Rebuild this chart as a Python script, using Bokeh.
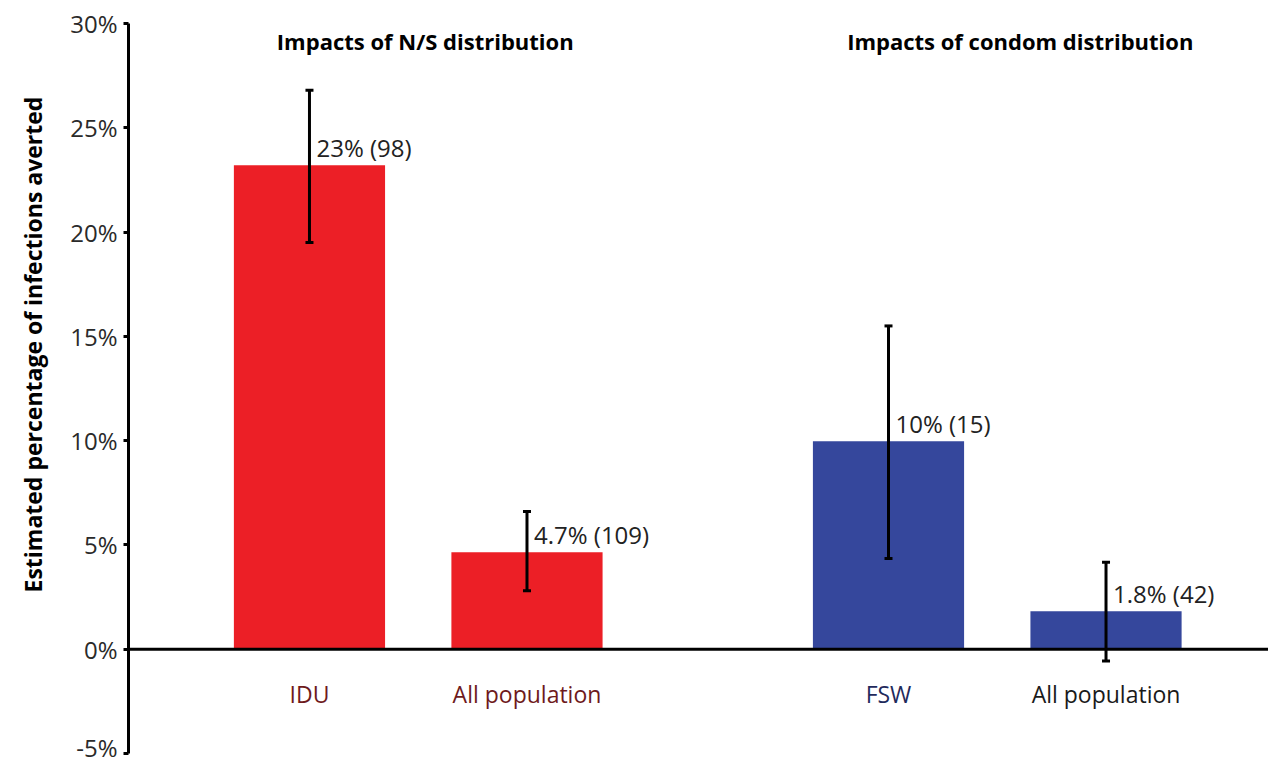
from bokeh.plotting import figure
from bokeh.models import (ColumnDataSource, Range1d, FixedTicker, Span, Whisker,
                          TeeHead, Title)
from bokeh.core.properties import value
from bokeh.embed import file_html
from bokeh.resources import INLINE

# ---------------- data ----------------
groups = ["Impacts of N/S distribution", "Impacts of condom distribution"]
categories = ["IDU", "All population", "FSW", "All population"]
group_index = [0, 0, 1, 1]
pct_averted = [23.2, 4.65, 9.97, 1.82]
err_lower = [19.5, 2.8, 4.35, -0.57]
err_upper = [26.8, 6.6, 15.5, 4.17]
value_labels = ["23% (98)", "4.7% (109)", "10% (15)", "1.8% (42)"]
y_ticks = [-5, 0, 5, 10, 15, 20, 25, 30]
y_tick_labels = ["-5%", "0%", "5%", "10%", "15%", "20%", "25%", "30%"]
y_title = "Estimated percentage of infections averted"

# ---------------- layout / style ----------------
FONT = "Open Sans"
GROUP_GAP = 2.662
bar_colors = ["#EC1F26", "#EC1F26", "#35479C", "#35479C"]
cat_label_colors = ["#6E1A1C", "#6E1A1C", "#1F2A5C", "#1A1A1A"]

within = []
counts = {}
for g in group_index:
    within.append(counts.get(g, 0))
    counts[g] = counts.get(g, 0) + 1
xpos = [g * GROUP_GAP + w for g, w in zip(group_index, within)]

src = ColumnDataSource(dict(
    x=xpos, top=pct_averted, lo=err_lower, hi=err_upper,
    lab=value_labels, cat=categories, color=bar_colors,
    cat_color=cat_label_colors, zero=[0] * len(xpos),
))

x_start = -0.832
x_end = x_start + 5.241
p = figure(width=1268, height=763, output_backend="svg", toolbar_location=None,
           x_range=Range1d(x_start, x_end), y_range=Range1d(-5, 30),
           x_axis_location=None,
           min_border_left=128, min_border_right=0, min_border_top=23,
           min_border_bottom=10)
p.outline_line_color = None
p.xgrid.visible = False
p.ygrid.visible = False
p.background_fill_color = "white"
p.border_fill_color = "white"

# y axis
ax = p.yaxis[0]
ax.ticker = FixedTicker(ticks=y_ticks)
ax.major_label_overrides = {t: l for t, l in zip(y_ticks, y_tick_labels)}
ax.axis_line_width = 3
ax.axis_line_color = "black"
ax.major_tick_in = 0
ax.major_tick_out = 5
ax.major_tick_line_width = 3
ax.minor_tick_line_color = None
ax.major_label_text_font = FONT
ax.major_label_text_font_size = "24px"
ax.major_label_text_color = "#2A2A2A"
ax.major_label_standoff = 6

# y axis title
p.add_layout(Title(text=y_title, align="left", vertical_align="top",
                   offset=161, standoff=33,
                   text_font=FONT, text_font_size="23px", text_font_style="bold",
                   text_color="black"), "left")

# bars
p.vbar(x="x", top="top", bottom=0, width=0.695, source=src,
       fill_color="color", line_color=None)

# zero line
p.add_layout(Span(location=0, dimension="width", line_color="black", line_width=3))

# error bars
w = Whisker(source=src, base="x", lower="lo", upper="hi", line_width=3,
            line_color="black", level="annotation",
            upper_head=TeeHead(size=8, line_width=3, line_color="black"),
            lower_head=TeeHead(size=8, line_width=3, line_color="black"))
p.add_layout(w)

# value labels
p.text(x="x", y="top", text="lab", source=src, x_offset=7, y_offset=-18,
       text_font=value(FONT), text_font_size="24px", text_color="#222222",
       text_align="left", text_baseline="middle")

# category labels
p.text(x="x", y="zero", text="cat", source=src, y_offset=45,
       text_font=value(FONT), text_font_size="23px", text_color="cat_color",
       text_align="center", text_baseline="middle")

# group titles
gx = []
for gi in range(len(groups)):
    xs = [x for x, g in zip(xpos, group_index) if g == gi]
    gx.append(sum(xs) / len(xs))
tsrc = ColumnDataSource(dict(x=gx, y=[30] * len(groups), t=groups, off=[7, 23]))
p.text(x="x", y="y", text="t", source=tsrc, x_offset="off", y_offset=17,
       text_font=value(FONT), text_font_size="22px", text_font_style="bold",
       text_color="black", text_align="center", text_baseline="middle")

open("out.html", "w").write(file_html(p, INLINE))
